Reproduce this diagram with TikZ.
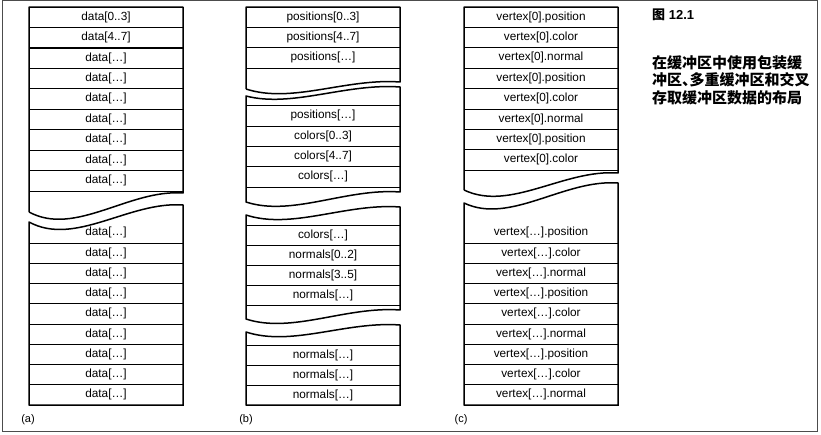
\documentclass[tikz,border=0pt]{standalone}
\usepackage{fontspec}
\setmainfont{Liberation Sans}
\newfontfamily\cjk{Noto Sans CJK SC}
\usepackage{tikz}
\usetikzlibrary{positioning}

\begin{document}
\begin{tikzpicture}[
    x=1pt, y=-1pt,
    cell/.style={rectangle, draw=black, line width=0.7pt, minimum width=154pt, minimum height=20.3pt, inner sep=0pt, outer sep=0pt, text height=8.5pt, text depth=2.5pt, font=\fontsize{11.8}{13}\selectfont},
    opencell/.style={cell, draw=none},
    outline/.style={draw=black, line width=1.5pt, line join=round},
    tag/.style={font=\fontsize{11}{13}\selectfont},
    frame/.style={draw=black!70, line width=1pt}
]
    \useasboundingbox (0,0) rectangle (821,435);
    \draw[frame] (2,1) rectangle (817,431);

    % (a) packed buffer
    \node[cell] (a1) at (106,17.2) {data[0..3]};
    \node[cell] (a2) at (106,37.6) {data[4..7]};
    \node[cell] (a3) at (106,58.1) {data[\ldots]};
    \node[cell] (a4) at (106,78.5) {data[\ldots]};
    \node[cell] (a5) at (106,99.0) {data[\ldots]};
    \node[cell] (a6) at (106,119.4) {data[\ldots]};
    \node[cell] (a7) at (106,139.9) {data[\ldots]};
    \node[cell] (a8) at (106,160.3) {data[\ldots]};
    \node[cell] (a9) at (106,180.8) {data[\ldots]};
    \node[opencell] (a10) at (106,232.9) {data[\ldots]};
    \node[cell] (a11) at (106,253.1) {data[\ldots]};
    \node[cell] (a12) at (106,273.4) {data[\ldots]};
    \node[cell] (a13) at (106,293.6) {data[\ldots]};
    \node[cell] (a14) at (106,313.9) {data[\ldots]};
    \node[cell] (a15) at (106,334.1) {data[\ldots]};
    \node[cell] (a16) at (106,354.4) {data[\ldots]};
    \node[cell] (a17) at (106,374.6) {data[\ldots]};
    \node[cell] (a18) at (106,394.9) {data[\ldots]};
    \draw[outline] (29,212) -- (a1.north west) -- (a1.north east) -- (183,193) .. controls (129,189) and (75,237) .. (29,212);
    \draw[outline] (29,222) .. controls (75,247) and (129,201) .. (183,205) -- (a18.south east) -- (a18.south west) -- cycle;

    % (b) multiple buffers
    \node[cell] (b1) at (323,17.2) {positions[0..3]};
    \node[cell] (b2) at (323,37.5) {positions[4..7]};
    \node[cell] (b3) at (323,57.8) {positions[\ldots]};
    \node[cell] (b4) at (323,116) {positions[\ldots]};
    \node[cell] (b5) at (323,136.3) {colors[0..3]};
    \node[cell] (b6) at (323,156.6) {colors[4..7]};
    \node[cell] (b7) at (323,176.9) {colors[\ldots]};
    \node[cell] (b8) at (323,235.1) {colors[\ldots]};
    \node[cell] (b9) at (323,255.3) {normals[0..2]};
    \node[cell] (b10) at (323,275.5) {normals[3..5]};
    \node[cell] (b11) at (323,295.7) {normals[\ldots]};
    \node[cell] (b12) at (323,355) {normals[\ldots]};
    \node[cell] (b13) at (323,375) {normals[\ldots]};
    \node[cell] (b14) at (323,395) {normals[\ldots]};
    \draw[outline] (246,89) -- (b1.north west) -- (b1.north east) -- (400,82) .. controls (346,78) and (292,104) .. (246,89);
    \draw[outline] (246,96) .. controls (292,108) and (346,83) .. (400,87) -- (400,192) .. controls (346,188) and (292,217) .. (246,202) -- cycle;
    \draw[outline] (246,215) .. controls (292,230) and (346,203) .. (400,207) -- (400,310) .. controls (346,306) and (292,334) .. (246,319) -- cycle;
    \draw[outline] (246,332) .. controls (292,347) and (346,321) .. (400,325) -- (b14.south east) -- (b14.south west) -- cycle;

    % (c) interleaved buffer
    \node[cell] (c1) at (541,17.2) {vertex[0].position};
    \node[cell] (c2) at (541,37.6) {vertex[0].color};
    \node[cell] (c3) at (541,58.0) {vertex[0].normal};
    \node[cell] (c4) at (541,78.4) {vertex[0].position};
    \node[cell] (c5) at (541,98.8) {vertex[0].color};
    \node[cell] (c6) at (541,119.2) {vertex[0].normal};
    \node[cell] (c7) at (541,139.6) {vertex[0].position};
    \node[cell] (c8) at (541,160.0) {vertex[0].color};
    \node[opencell] (c9) at (541,232.9) {vertex[\ldots].position};
    \node[cell] (c10) at (541,253.1) {vertex[\ldots].color};
    \node[cell] (c11) at (541,273.4) {vertex[\ldots].normal};
    \node[cell] (c12) at (541,293.6) {vertex[\ldots].position};
    \node[cell] (c13) at (541,313.9) {vertex[\ldots].color};
    \node[cell] (c14) at (541,334.1) {vertex[\ldots].normal};
    \node[cell] (c15) at (541,354.4) {vertex[\ldots].position};
    \node[cell] (c16) at (541,374.6) {vertex[\ldots].color};
    \node[cell] (c17) at (541,394.9) {vertex[\ldots].normal};
    \draw[outline] (464,190) -- (c1.north west) -- (c1.north east) -- (618,173) .. controls (564,169) and (510,212) .. (464,190);
    \draw[outline] (464,203) .. controls (510,225) and (564,179) .. (618,183) -- (c17.south east) -- (c17.south west) -- cycle;

    % sub-figure tags
    \node[tag] (tagA) at (28,420) {(a)};
    \node[tag] (tagB) at (246,420) {(b)};
    \node[tag] (tagC) at (461,420) {(c)};

    % caption
    \node[anchor=west, inner sep=0pt, font=\bfseries\fontsize{13}{15}\selectfont] (title) at (652,15) {{\cjk 图} 12.1};
    \node[anchor=north west, align=left, inner sep=0pt, font=\cjk\bfseries\fontsize{15}{17.5}\selectfont] (caption) at (652,55) {在缓冲区中使用包装缓\\冲区、\hspace{-0.5em}多重缓冲区和交叉\\存取缓冲区数据的布局};
\end{tikzpicture}
\end{document}
